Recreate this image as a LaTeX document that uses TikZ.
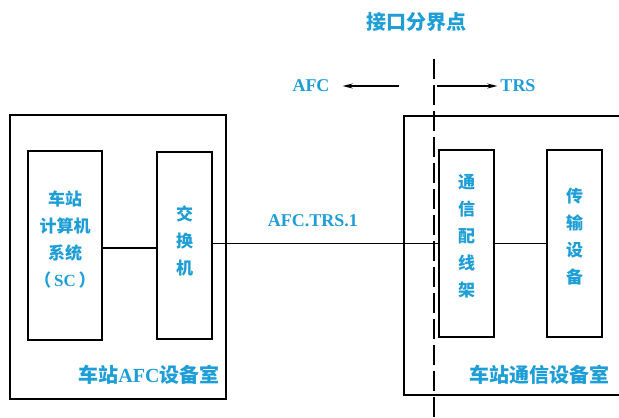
\documentclass[tikz,border=0pt]{standalone}
\usepackage{fontspec}
\setmainfont{Liberation Serif}
\newfontfamily\cjk{Noto Sans CJK SC}
\usetikzlibrary{arrows.meta,calc}
\definecolor{labcyan}{RGB}{30,158,214}
\begin{document}
\begin{tikzpicture}[x=1pt,y=-1pt,
  boxline/.style={draw=black,line width=1.6pt,rectangle,inner sep=0pt},
  unitbox/.style={boxline,minimum width=55pt,minimum height=187pt},
  intext/.style={text=labcyan,align=center,font=\cjk\bfseries\fontsize{17pt}{27pt}\selectfont,inner sep=0pt},
  roomtext/.style={text=labcyan,font=\cjk\bfseries\fontsize{20pt}{24pt}\selectfont,inner sep=0pt},
  latin/.style={text=labcyan,font=\rmfamily\bfseries\fontsize{18pt}{20pt}\selectfont,inner sep=0pt},
  conn/.style={draw=black,line width=1.5pt},
  bound/.style={draw=black,line width=2pt,dash pattern=on 20pt off 6pt},
  dirarrow/.style={draw=black,line width=1.4pt,-{Stealth[length=10pt,width=5pt]}}]
\useasboundingbox (0,0) rectangle (619,418);
\fill[white] (0,0) rectangle (619,418);
\begin{scope}
\clip (0,0) rectangle (619,418);
% rooms
\node[boxline,minimum width=216pt,minimum height=284pt] (afcroom) at (118,257) {};
\node[boxline,minimum width=230pt,minimum height=279pt] (trsroom) at (519,255.5) {};
% units
\node[boxline,minimum width=74pt,minimum height=189pt] (sc) at (65,245.5) {};
\node[unitbox] (sw) at (184.5,245.5) {};
\node[unitbox] (odf) at (466.5,243.5) {};
\node[unitbox] (trans) at (574.5,243.5) {};
% unit texts
\node[intext] (sctext) at ([yshift=5.5pt]sc.center) {车站\\计算机\\系统\\（{\rmfamily\bfseries\,SC\,}）};
\node[intext] (swtext) at ([yshift=4.5pt]sw.center) {交\\换\\机};
\node[intext] (odftext) at ([yshift=7.5pt]odf.center) {通\\信\\配\\线\\架};
\node[intext] (transtext) at ([yshift=6.5pt]trans.center) {传\\输\\设\\备};
% room labels
\node[roomtext] (afclabel) at (149,375) {车站{\rmfamily\bfseries AFC}设备室};
\node[roomtext] (trslabel) at (539.5,375) {车站通信设备室};
% connectors
\draw[conn] ([yshift=-2.5pt]sc.east) -- ([yshift=-2.5pt]sc.east -| sw.west);
\draw[conn] (sw.east |- odf.west) -- (odf.west);
\draw[conn] (odf.east) -- (trans.west);
\node[latin] (linklabel) at (313,221) {AFC.TRS.1};
% boundary
\coordinate (btop) at (434,59);
\coordinate (bbot) at (434,420);
\draw[bound] (btop) -- (bbot);
\node[roomtext] (title) at (416,22) {接口分界点};
\node[latin] (afcdir) at (311,86) {AFC};
\node[latin] (trsdir) at (518,86) {TRS};
\coordinate (astart) at (399,86);
\coordinate (tstart) at (437,86);
\draw[dirarrow] (astart) -- ([xshift=13pt]afcdir.east);
\draw[dirarrow] (tstart) -- ([xshift=-3pt]trsdir.west);
\end{scope}
\end{tikzpicture}
\end{document}
